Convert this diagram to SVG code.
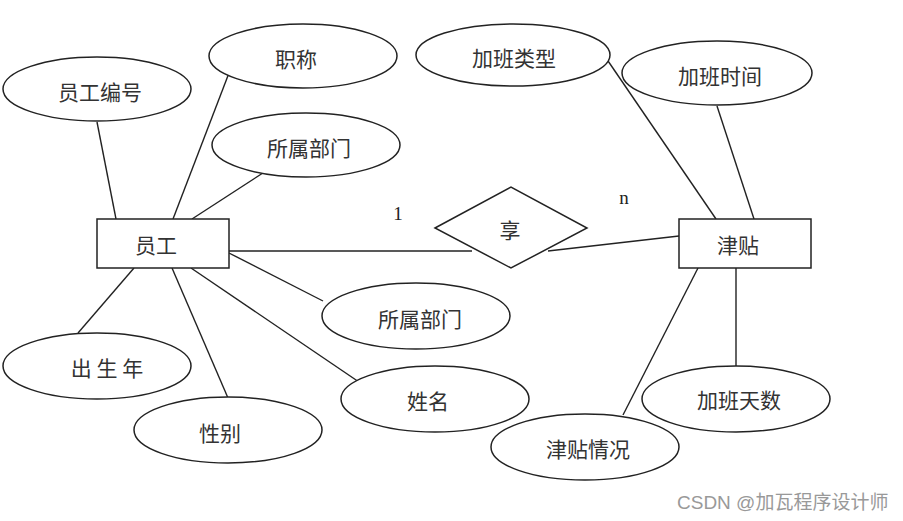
<svg xmlns="http://www.w3.org/2000/svg" width="903" height="521" viewBox="0 0 903 521">
<style>
.sh{fill:#fff;stroke:#222;stroke-width:1.5}
.ln{stroke:#222;stroke-width:1.4;fill:none}
.t{font-family:"Noto Sans CJK SC","Liberation Sans",sans-serif;font-size:21px;fill:#333;text-anchor:middle;dominant-baseline:central}
.c{font-family:"Liberation Serif",serif;font-size:19px;fill:#222;text-anchor:middle;dominant-baseline:central}
.w{font-family:"Liberation Sans","Noto Sans CJK SC",sans-serif;font-size:19px;fill:#999;text-anchor:start;dominant-baseline:central}
</style>
<rect width="903" height="521" fill="#fff"/>
<g id="connectors">
<line class="ln" x1="97" y1="122" x2="116" y2="219"/>
<line class="ln" x1="229" y1="73" x2="173" y2="219"/>
<line class="ln" x1="266" y1="171" x2="192" y2="219"/>
<line class="ln" x1="229" y1="251" x2="472" y2="251"/>
<line class="ln" x1="548" y1="251" x2="679" y2="236"/>
<line class="ln" x1="606" y1="58" x2="716" y2="219"/>
<line class="ln" x1="717" y1="106" x2="754" y2="219"/>
<line class="ln" x1="229" y1="253" x2="323" y2="301"/>
<line class="ln" x1="191" y1="268" x2="359" y2="382"/>
<line class="ln" x1="134" y1="268" x2="78" y2="333"/>
<line class="ln" x1="172" y1="268" x2="228" y2="398"/>
<line class="ln" x1="698" y1="268" x2="623" y2="415"/>
<line class="ln" x1="736" y1="268" x2="736" y2="366"/>
</g>
<g id="n-yuangong"><rect class="sh" x="97" y="219" width="132" height="49"/><text class="t" x="156" y="244">员工</text></g>
<g id="n-jintie"><rect class="sh" x="679" y="219" width="132" height="49"/><text class="t" x="738" y="244">津贴</text></g>
<g id="n-xiang"><polygon class="sh" points="435,228 511,187 587,228 511,268"/><text class="t" x="510" y="229">享</text></g>
<g id="a-bianhao"><ellipse class="sh" cx="97" cy="89" rx="94" ry="32"/><text class="t" x="100" y="91">员工编号</text></g>
<g id="a-zhicheng"><ellipse class="sh" cx="303" cy="56" rx="94" ry="32"/><text class="t" x="296" y="58">职称</text></g>
<g id="a-bumen1"><ellipse class="sh" cx="306" cy="145" rx="94" ry="32"/><text class="t" x="309" y="147">所属部门</text></g>
<g id="a-leixing"><ellipse class="sh" cx="513" cy="55" rx="97" ry="31"/><text class="t" x="514" y="57">加班类型</text></g>
<g id="a-shijian"><ellipse class="sh" cx="717" cy="73" rx="95" ry="32"/><text class="t" x="720" y="75">加班时间</text></g>
<g id="a-bumen2"><ellipse class="sh" cx="416" cy="316" rx="94" ry="33"/><text class="t" x="420" y="318">所属部门</text></g>
<g id="a-xingming"><ellipse class="sh" cx="435" cy="399" rx="94" ry="33"/><text class="t" x="428" y="400">姓名</text></g>
<g id="a-chusheng"><ellipse class="sh" cx="97" cy="366" rx="94" ry="33"/><text class="t" x="107" y="367" xml:space="preserve">出 生 年</text></g>
<g id="a-xingbie"><ellipse class="sh" cx="228" cy="430" rx="94" ry="33"/><text class="t" x="220" y="432">性别</text></g>
<g id="a-qingkuang"><ellipse class="sh" cx="585" cy="447" rx="94" ry="33"/><text class="t" x="588" y="448">津贴情况</text></g>
<g id="a-tianshu"><ellipse class="sh" cx="736" cy="399" rx="94" ry="33"/><text class="t" x="739" y="399">加班天数</text></g>
<text class="c" x="398" y="213">1</text>
<text class="c" x="624" y="197">n</text>
<text class="w" x="677" y="502">CSDN @加瓦程序设计师</text>
</svg>
